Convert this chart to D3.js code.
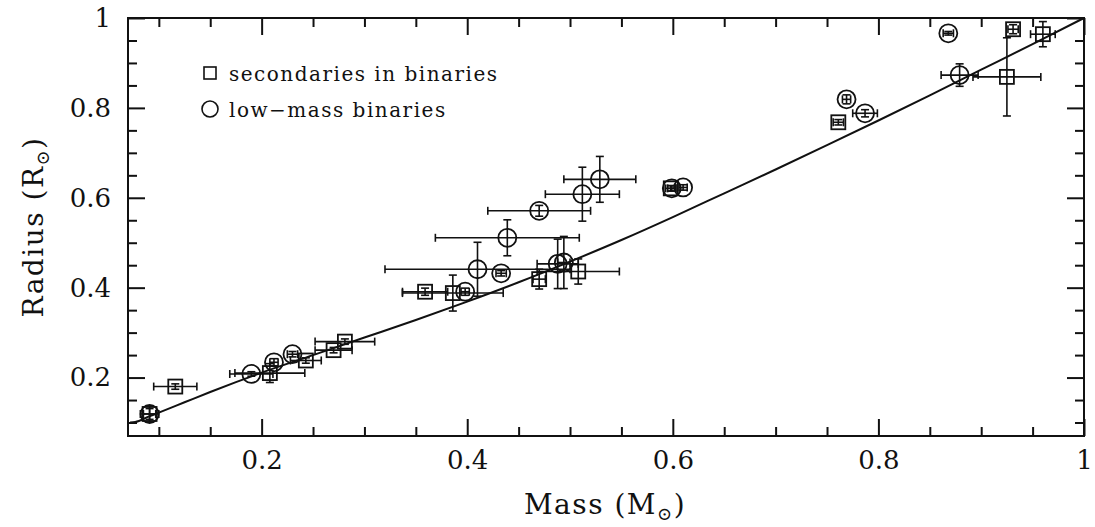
<!DOCTYPE html>
<html>
<head>
<meta charset="utf-8">
<script src="https://cdn.jsdelivr.net/npm/d3@7/dist/d3.min.js"></script>
<style>
  html, body { margin: 0; padding: 0; background: #fff; }
  svg { display: block; }
  text { font-family: "DejaVu Serif", "Liberation Serif", serif; fill: #111; }
</style>
</head>
<body>
<svg id="chart" width="1095" height="527"></svg>
<script>
// ---------- data ----------
// secondaries in binaries (squares): mass, radius, mass error, radius error
const secMass  = [0.091, 0.116, 0.208, 0.243, 0.270, 0.281, 0.359, 0.386, 0.470, 0.508, 0.598, 0.761, 0.925, 0.931, 0.960];
const secRad   = [0.119, 0.180, 0.210, 0.238, 0.261, 0.280, 0.391, 0.388, 0.419, 0.436, 0.621, 0.768, 0.869, 0.975, 0.964];
const secMErr  = [0.009, 0.021, 0.034, 0.015, 0.018, 0.029, 0.022, 0.049, 0.006, 0.040, 0.005, 0.005, 0.033, 0.005, 0.012];
const secRErr  = [0.018, 0.006, 0.021, 0.006, 0.006, 0.006, 0.008, 0.040, 0.022, 0.028, 0.006, 0.006, 0.087, 0.010, 0.028];

// low-mass binaries (circles)
const lmbMass  = [0.091, 0.190, 0.212, 0.230, 0.398, 0.410, 0.433, 0.439, 0.470, 0.488, 0.494, 0.512, 0.529, 0.599, 0.610, 0.769, 0.787, 0.868, 0.879];
const lmbRad   = [0.119, 0.208, 0.234, 0.252, 0.391, 0.441, 0.432, 0.511, 0.571, 0.453, 0.456, 0.608, 0.641, 0.621, 0.623, 0.819, 0.788, 0.966, 0.873];
const lmbMErr  = [0.006, 0.021, 0.004, 0.005, 0.004, 0.090, 0.005, 0.070, 0.050, 0.020, 0.006, 0.036, 0.035, 0.004, 0.004, 0.004, 0.012, 0.005, 0.018];
const lmbRErr  = [0.012, 0.005, 0.008, 0.006, 0.008, 0.060, 0.006, 0.040, 0.012, 0.055, 0.058, 0.060, 0.051, 0.006, 0.006, 0.010, 0.008, 0.004, 0.025];

// model mass-radius relation
const modelMass = [0.072, 0.077, 0.090, 0.100, 0.125, 0.150, 0.175, 0.200, 0.250, 0.300, 0.350, 0.400, 0.450, 0.500, 0.550, 0.600, 0.650, 0.700, 0.750, 0.800, 0.850, 0.900, 0.950, 1.000];
const modelRad  = [0.100, 0.101, 0.113, 0.122, 0.145, 0.168, 0.190, 0.211, 0.250, 0.289, 0.328, 0.369, 0.412, 0.458, 0.506, 0.557, 0.610, 0.663, 0.717, 0.772, 0.828, 0.885, 0.942, 1.000];

// ticks
const xMajor = [0.2, 0.4, 0.6, 0.8, 1.0];
const xMinor = [0.1, 0.15, 0.25, 0.3, 0.35, 0.45, 0.5, 0.55, 0.65, 0.7, 0.75, 0.85, 0.9, 0.95];
const yMajor = [0.2, 0.4, 0.6, 0.8, 1.0];
const yMinor = [0.1, 0.15, 0.25, 0.3, 0.35, 0.45, 0.5, 0.55, 0.65, 0.7, 0.75, 0.85, 0.9, 0.95];

const legendLabels = ["secondaries in binaries", "low\u2212mass binaries"];

// ---------- layout ----------
const svg = d3.select("#chart");
const L = 128, R = 1084, T = 18, B = 436;
const x = d3.scaleLinear().domain([0.07, 1.0]).range([L, R]);
const y = d3.scaleLinear().domain([0.07, 1.0]).range([B, T]);
const ink = "#111";
const majorLen = 17, minorLen = 9;

function styleAxis(g) {
  g.select(".domain").remove();
  g.selectAll(".tick line").attr("stroke", ink).attr("stroke-width", 2);
  g.selectAll("text").attr("font-size", 26).attr("fill", ink)
    .attr("font-family", "DejaVu Serif, serif");
}

// bottom
svg.append("g").attr("transform", `translate(0,${B})`)
  .call(d3.axisBottom(x).tickValues(xMajor).tickSize(-majorLen).tickPadding(15).tickFormat(d3.format("")))
  .call(styleAxis);
svg.append("g").attr("transform", `translate(0,${B})`)
  .call(d3.axisBottom(x).tickValues(xMinor).tickSize(-minorLen).tickFormat(""))
  .call(styleAxis);
// top
svg.append("g").attr("transform", `translate(0,${T})`)
  .call(d3.axisTop(x).tickValues(xMajor).tickSize(-majorLen).tickFormat(""))
  .call(styleAxis);
svg.append("g").attr("transform", `translate(0,${T})`)
  .call(d3.axisTop(x).tickValues(xMinor).tickSize(-minorLen).tickFormat(""))
  .call(styleAxis);
// left
svg.append("g").attr("transform", `translate(${L},0)`)
  .call(d3.axisLeft(y).tickValues(yMajor).tickSize(-majorLen).tickPadding(17).tickFormat(d3.format("")))
  .call(styleAxis);
svg.append("g").attr("transform", `translate(${L},0)`)
  .call(d3.axisLeft(y).tickValues(yMinor).tickSize(-minorLen).tickFormat(""))
  .call(styleAxis);
// right
svg.append("g").attr("transform", `translate(${R},0)`)
  .call(d3.axisRight(y).tickValues(yMajor).tickSize(-majorLen).tickFormat(""))
  .call(styleAxis);
svg.append("g").attr("transform", `translate(${R},0)`)
  .call(d3.axisRight(y).tickValues(yMinor).tickSize(-minorLen).tickFormat(""))
  .call(styleAxis);

// frame
svg.append("rect").attr("x", L).attr("y", T).attr("width", R - L).attr("height", B - T)
  .attr("fill", "none").attr("stroke", ink).attr("stroke-width", 2);

// model line
const model = modelMass.map((m, i) => [m, modelRad[i]]);
svg.append("path").datum(model)
  .attr("fill", "none").attr("stroke", ink).attr("stroke-width", 2)
  .attr("d", d3.line().x(d => x(d[0])).y(d => y(d[1])).curve(d3.curveMonotoneX));

// error bars + markers
const cap = 4;
function drawSet(ms, rs, me, re, kind) {
  const data = ms.map((m, i) => ({ m, r: rs[i], me: me[i], re: re[i] }));
  const g = svg.append("g").attr("stroke", ink).attr("stroke-width", 1.6).attr("fill", "none");
  const eb = g.selectAll("g.eb").data(data).join("g").attr("class", "eb");
  eb.append("line").attr("x1", d => x(d.m - d.me)).attr("x2", d => x(d.m + d.me))
    .attr("y1", d => y(d.r)).attr("y2", d => y(d.r));
  eb.append("line").attr("x1", d => x(d.m)).attr("x2", d => x(d.m))
    .attr("y1", d => y(d.r - d.re)).attr("y2", d => y(d.r + d.re));
  eb.append("line").attr("x1", d => x(d.m - d.me)).attr("x2", d => x(d.m - d.me))
    .attr("y1", d => y(d.r) - cap).attr("y2", d => y(d.r) + cap);
  eb.append("line").attr("x1", d => x(d.m + d.me)).attr("x2", d => x(d.m + d.me))
    .attr("y1", d => y(d.r) - cap).attr("y2", d => y(d.r) + cap);
  eb.append("line").attr("x1", d => x(d.m) - cap).attr("x2", d => x(d.m) + cap)
    .attr("y1", d => y(d.r - d.re)).attr("y2", d => y(d.r - d.re));
  eb.append("line").attr("x1", d => x(d.m) - cap).attr("x2", d => x(d.m) + cap)
    .attr("y1", d => y(d.r + d.re)).attr("y2", d => y(d.r + d.re));
  if (kind === "square") {
    eb.append("rect").attr("x", d => x(d.m) - 7).attr("y", d => y(d.r) - 7)
      .attr("width", 14).attr("height", 14).attr("stroke-width", 1.8);
  } else {
    eb.append("circle").attr("cx", d => x(d.m)).attr("cy", d => y(d.r)).attr("r", 9)
      .attr("stroke-width", 1.8);
  }
}
drawSet(secMass, secRad, secMErr, secRErr, "square");
drawSet(lmbMass, lmbRad, lmbMErr, lmbRErr, "circle");

// legend
const lg = svg.append("g");
lg.append("rect").attr("x", 204).attr("y", 67).attr("width", 12).attr("height", 12)
  .attr("fill", "none").attr("stroke", ink).attr("stroke-width", 1.6);
lg.append("circle").attr("cx", 210).attr("cy", 109).attr("r", 8)
  .attr("fill", "none").attr("stroke", ink).attr("stroke-width", 1.6);
lg.selectAll("text.lab").data(legendLabels).join("text").attr("class", "lab")
  .attr("x", 229).attr("y", (d, i) => 81 + i * 36)
  .attr("font-size", 20).attr("letter-spacing", 1.5).text(d => d);

// axis titles
const xt = svg.append("text").attr("x", 605).attr("y", 514).attr("text-anchor", "middle")
  .attr("font-size", 28).attr("letter-spacing", 1.5);
xt.append("tspan").text("Mass (M");
xt.append("tspan").attr("font-size", 18).attr("dy", 6).text("\u2299");
xt.append("tspan").attr("dy", -6).text(")");

const yt = svg.append("text").attr("transform", "translate(43,227) rotate(-90)")
  .attr("text-anchor", "middle").attr("font-size", 28).attr("letter-spacing", 1.5);
yt.append("tspan").text("Radius (R");
yt.append("tspan").attr("font-size", 18).attr("dy", 6).text("\u2299");
yt.append("tspan").attr("dy", -6).text(")");
</script>
</body>
</html>
